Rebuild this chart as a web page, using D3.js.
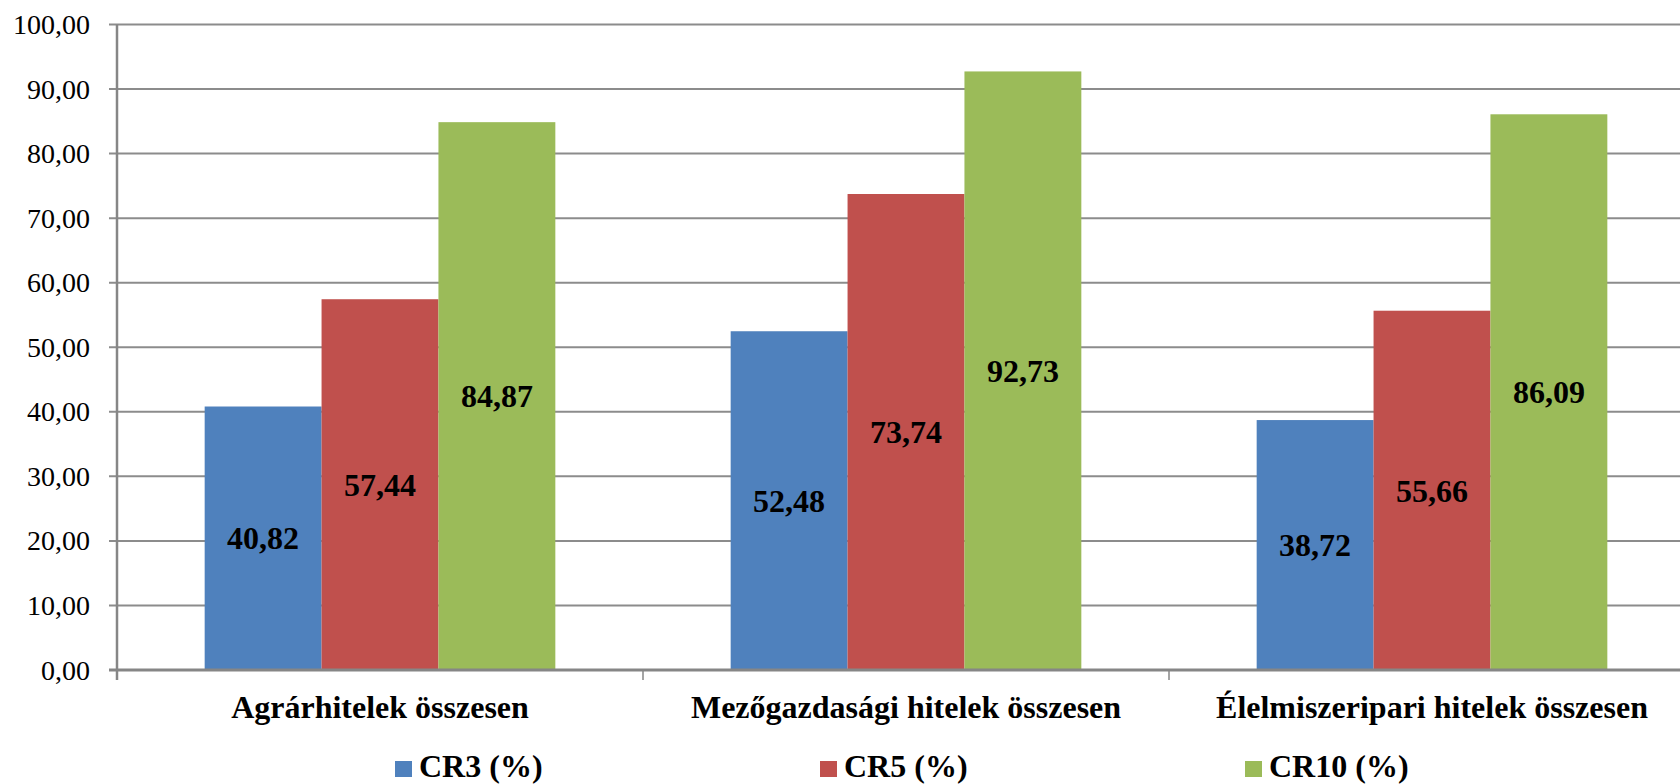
<!DOCTYPE html>
<html>
<head>
<meta charset="utf-8">
<script src="https://cdn.jsdelivr.net/npm/d3@7"></script>
<style>
  html, body { margin: 0; padding: 0; background: #fff; overflow: hidden; }
  .canvas { width: 1680px; height: 784px; }
  text { font-family: "Liberation Serif", "Times New Roman", serif; fill: #000; }
</style>
</head>
<body>
<div class="canvas"></div>
<script>
// data
var categories = ['Agrárhitelek összesen', 'Mezőgazdasági hitelek összesen', 'Élelmiszeripari hitelek összesen'];
var seriesNames = ['CR3 (%)', 'CR5 (%)', 'CR10 (%)'];
var cr3 = [40.82, 52.48, 38.72];
var cr5 = [57.44, 73.74, 55.66];
var cr10 = [84.87, 92.73, 86.09];
var yTicks = [0, 10, 20, 30, 40, 50, 60, 70, 80, 90, 100];
var colors = ['#4F81BD', '#C0504D', '#9BBB59'];

var series = [cr3, cr5, cr10];

// set up svg
var width = 1680, height = 784;
var svg = d3.select('.canvas').append('svg')
	.attr('width', width)
	.attr('height', height);

var fmt = function (v) { return d3.format('.2f')(v).replace('.', ','); };

// scales
var x0 = d3.scaleBand()
	.domain(categories)
	.range([117, 1695]);

var x1 = d3.scaleBand()
	.domain(seriesNames)
	.range([0, x0.bandwidth()])
	.paddingInner(0)
	.paddingOuter(0.75);

var y = d3.scaleLinear()
	.domain([0, 100])
	.range([670, 24.5]);

var color = d3.scaleOrdinal().domain(seriesNames).range(colors);

// gridlines
svg.append('g').selectAll('line')
	.data(yTicks)
	.enter()
	.append('line')
	.attr('x1', 109)
	.attr('x2', width)
	.attr('y1', d => y(d))
	.attr('y2', d => y(d))
	.attr('stroke', '#8c8c8c')
	.attr('stroke-width', 2);

// y tick labels
svg.append('g').selectAll('text')
	.data(yTicks)
	.enter()
	.append('text')
	.attr('x', 90)
	.attr('y', d => y(d))
	.attr('dy', '0.34em')
	.attr('text-anchor', 'end')
	.style('font-size', '28px')
	.text(d => fmt(d));

// bars
var rows = [];
categories.forEach(function (c, i) {
	seriesNames.forEach(function (s, j) {
		rows.push({ cat: c, name: s, value: series[j][i] });
	});
});

var bars = svg.append('g').selectAll('rect')
	.data(rows)
	.enter()
	.append('rect')
	.attr('x', d => x0(d.cat) + x1(d.name))
	.attr('y', d => y(d.value))
	.attr('width', x1.bandwidth())
	.attr('height', d => y(0) - y(d.value))
	.attr('fill', d => color(d.name));

// value labels, centred in bars
svg.append('g').selectAll('text')
	.data(rows)
	.enter()
	.append('text')
	.attr('x', d => x0(d.cat) + x1(d.name) + x1.bandwidth() / 2)
	.attr('y', d => (y(d.value) + y(0)) / 2)
	.attr('dy', '0.35em')
	.attr('text-anchor', 'middle')
	.style('font-size', '32px')
	.style('font-weight', 'bold')
	.text(d => fmt(d.value));

// axes lines
svg.append('line')
	.attr('x1', 117).attr('x2', 117)
	.attr('y1', y(100)).attr('y2', 680)
	.attr('stroke', '#868686')
	.attr('stroke-width', 2.5);

svg.append('line')
	.attr('x1', 109).attr('x2', width)
	.attr('y1', y(0)).attr('y2', y(0))
	.attr('stroke', '#868686')
	.attr('stroke-width', 3);

// category boundary ticks
var bounds = categories.map(c => x0(c)).concat([x0.range()[1]]);
svg.append('g').selectAll('line')
	.data(bounds)
	.enter()
	.append('line')
	.attr('x1', d => d).attr('x2', d => d)
	.attr('y1', y(0)).attr('y2', 680)
	.attr('stroke', '#868686')
	.attr('stroke-width', 1.5);

// category labels
svg.append('g').selectAll('text')
	.data(categories)
	.enter()
	.append('text')
	.attr('x', d => x0(d) + x0.bandwidth() / 2)
	.attr('y', 718)
	.attr('text-anchor', 'middle')
	.style('font-size', '32px')
	.style('font-weight', 'bold')
	.text(d => d);

// legend
var lx = d3.scalePoint().domain(seriesNames).range([395, 1245]);
var legend = svg.append('g').selectAll('g')
	.data(seriesNames)
	.enter()
	.append('g')
	.attr('transform', d => 'translate(' + lx(d) + ',0)');

legend.append('rect')
	.attr('x', 0)
	.attr('y', 761)
	.attr('width', 17)
	.attr('height', 16)
	.attr('fill', d => color(d));

legend.append('text')
	.attr('x', 24)
	.attr('y', 777)
	.style('font-size', '32px')
	.style('font-weight', 'bold')
	.text(d => d);
</script>
</body>
</html>
